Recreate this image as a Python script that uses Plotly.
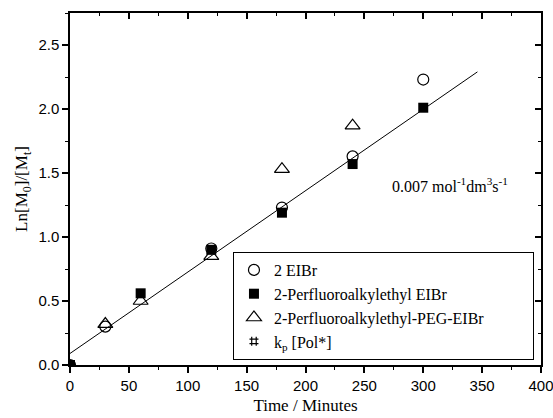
import plotly.graph_objects as go

# data
t_circle = [0, 30, 120, 180, 240, 300]
y_circle = [0.0, 0.30, 0.91, 1.23, 1.63, 2.23]
t_square = [0, 60, 120, 180, 240, 300]
y_square = [0.0, 0.56, 0.90, 1.19, 1.57, 2.01]
t_tri = [30, 60, 120, 180, 240]
y_tri = [0.32, 0.50, 0.85, 1.53, 1.87]
fit_t = [0, 346]
fit_y = [0.09, 2.29]

names = ["2 EIBr", "2-Perfluoroalkylethyl EIBr",
         "2-Perfluoroalkylethyl-PEG-EIBr" + "\u00a0" * 11, "k<sub>p</sub> [Pol*]"]

serif = "Liberation Serif"
sans = "Liberation Sans"

fig = go.Figure()
fig.add_trace(go.Scatter(x=fit_t, y=fit_y, mode="lines",
                         line=dict(color="black", width=1), showlegend=False))
fig.add_trace(go.Scatter(x=t_circle, y=y_circle, mode="markers", name=names[0],
                         marker=dict(symbol="circle-open", size=11, color="black",
                                     line=dict(width=1.2, color="black"))))
fig.add_trace(go.Scatter(x=t_square, y=y_square, mode="markers", name=names[1],
                         marker=dict(symbol="square", size=10, color="black")))
fig.add_trace(go.Scatter(x=t_tri, y=y_tri, mode="markers", name=names[2],
                         marker=dict(symbol="triangle-up-open", size=13, color="black",
                                     line=dict(width=1.2, color="black"))))
fig.add_trace(go.Scatter(x=[None], y=[None], mode="markers", name=names[3],
                         marker=dict(symbol="hash-open", size=9, color="black",
                                     line=dict(width=1.2, color="black"))))
# invisible trace to drive mirrored axes (top / right, inward ticks)
fig.add_trace(go.Scatter(x=[None], y=[None], xaxis="x2", yaxis="y2", showlegend=False))

fig.add_annotation(x=272, y=1.41, xref="x", yref="y", xanchor="left", yanchor="middle",
                   text="0.007 mol<sup>-1</sup>dm<sup>3</sup>s<sup>-1</sup>",
                   showarrow=False, font=dict(family=serif, size=16, color="black"))

axis_common = dict(showline=True, linecolor="black", linewidth=1.5,
                   ticks="outside", ticklen=6, tickwidth=1.5, tickcolor="black",
                   showgrid=False, zeroline=False, automargin=False,
                   ticklabeloverflow="allow",
                   tickfont=dict(family=sans, size=15, color="black"))

fig.update_layout(
    xaxis=dict(range=[0, 400], dtick=50,
               minor=dict(dtick=25, ticks="outside", ticklen=3, tickwidth=1, tickcolor="black"),
               title=dict(text="Time / Minutes", font=dict(family=serif, size=17, color="black"),
                          standoff=6),
               **axis_common),
    yaxis=dict(range=[0, 2.75], dtick=0.5, tickformat=".1f",
               minor=dict(dtick=0.25, ticks="outside", ticklen=3, tickwidth=1, tickcolor="black"),
               title=dict(text="Ln[M<sub>0</sub>]/[M<sub>t</sub>]",
                          font=dict(family=serif, size=17, color="black"), standoff=6),
               **axis_common),
    xaxis2=dict(range=[0, 400], dtick=50, overlaying="x", side="top", anchor="y2",
                showline=True, linecolor="black", linewidth=1.5, automargin=False,
                ticks="inside", ticklen=6, tickwidth=1.5, tickcolor="black",
                minor=dict(dtick=25, ticks="inside", ticklen=3, tickwidth=1, tickcolor="black"),
                showticklabels=False, showgrid=False, zeroline=False),
    yaxis2=dict(range=[0, 2.75], dtick=0.5, overlaying="y", side="right", anchor="x2",
                showline=True, linecolor="black", linewidth=1.5, automargin=False,
                ticks="inside", ticklen=6, tickwidth=1.5, tickcolor="black",
                minor=dict(dtick=0.25, ticks="inside", ticklen=3, tickwidth=1, tickcolor="black"),
                showticklabels=False, showgrid=False, zeroline=False),
    width=553, height=418,
    margin=dict(l=70, r=12, t=13, b=53, autoexpand=False),
    paper_bgcolor="white", plot_bgcolor="white",
    legend=dict(x=0.346, y=0.321, xanchor="left", yanchor="top",
                bgcolor="white", bordercolor="black", borderwidth=1,
                font=dict(family=serif, size=16, color="black"),
                tracegroupgap=0, itemwidth=30),
)

fig.write_html("out.html")
